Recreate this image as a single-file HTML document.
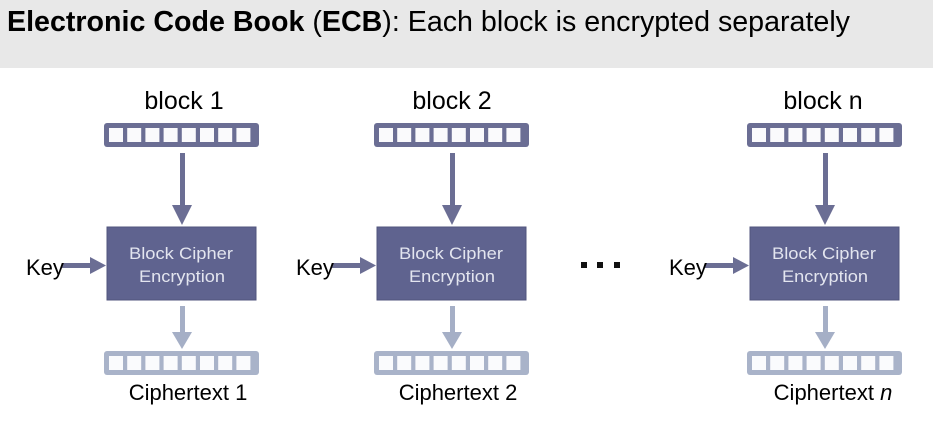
<!DOCTYPE html>
<html><head><meta charset="utf-8"><style>
html,body{margin:0;padding:0;background:#fff;}
svg{display:block;}
</style></head><body>
<svg width="933" height="437" viewBox="0 0 933 437" xmlns="http://www.w3.org/2000/svg">
<defs>
<g id="topbar">
  <rect x="104" y="123" width="155" height="24" rx="3" fill="#6b6e94"/>
  <g fill="#fafafc">
    <rect x="109" y="128" width="14" height="14"/><rect x="127.2" y="128" width="14" height="14"/>
    <rect x="145.4" y="128" width="14" height="14"/><rect x="163.6" y="128" width="14" height="14"/>
    <rect x="181.8" y="128" width="14" height="14"/><rect x="200" y="128" width="14" height="14"/>
    <rect x="218.2" y="128" width="14" height="14"/><rect x="236.4" y="128" width="14" height="14"/>
  </g>
</g>
<g id="botbar">
  <rect x="104" y="351" width="155" height="24" rx="3" fill="#a9b3c9"/>
  <g fill="#fafbfd">
    <rect x="109" y="356" width="14" height="14"/><rect x="127.2" y="356" width="14" height="14"/>
    <rect x="145.4" y="356" width="14" height="14"/><rect x="163.6" y="356" width="14" height="14"/>
    <rect x="181.8" y="356" width="14" height="14"/><rect x="200" y="356" width="14" height="14"/>
    <rect x="218.2" y="356" width="14" height="14"/><rect x="236.4" y="356" width="14" height="14"/>
  </g>
</g>
<g id="col">
  <use href="#topbar"/>
  <rect x="180" y="153" width="5" height="53" fill="#6b6e94"/>
  <polygon points="172,205 192,205 182,225" fill="#6b6e94"/>
  <rect x="107" y="227" width="149" height="73" fill="#5f638f" stroke="#51547c" stroke-width="1"/>
  <text x="129" y="259" font-family="Liberation Sans, sans-serif" font-size="17" fill="#e3e5ef" textLength="104" lengthAdjust="spacingAndGlyphs">Block Cipher</text>
  <text x="139" y="282" font-family="Liberation Sans, sans-serif" font-size="17" fill="#e3e5ef" textLength="86" lengthAdjust="spacingAndGlyphs">Encryption</text>
  <rect x="62" y="263" width="30" height="5" fill="#6b6e94"/>
  <polygon points="90,257 90,274 106,265.5" fill="#6b6e94"/>
  <rect x="180" y="306" width="5" height="27" fill="#a5afc6"/>
  <polygon points="172,332 192,332 182,349" fill="#a5afc6"/>
  <use href="#botbar"/>
</g>
</defs>
<rect x="0" y="0" width="933" height="68" fill="#e8e8e8"/>
<text x="7" y="31" font-family="Liberation Sans, sans-serif" font-size="29" fill="#000" textLength="843" lengthAdjust="spacingAndGlyphs"><tspan font-weight="bold">Electronic Code Book</tspan> (<tspan font-weight="bold">ECB</tspan>): Each block is encrypted separately</text>

<use href="#col"/>
<use href="#col" transform="translate(270,0)"/>
<use href="#col" transform="translate(643,0)"/>

<g font-family="Liberation Sans, sans-serif" fill="#000">
  <text x="184" y="109" font-size="25" text-anchor="middle">block 1</text>
  <text x="452" y="109" font-size="25" text-anchor="middle">block 2</text>
  <text x="823" y="109" font-size="25" text-anchor="middle">block n</text>
  <text x="26" y="275" font-size="22">Key</text>
  <text x="296" y="275" font-size="22">Key</text>
  <text x="669" y="275" font-size="22">Key</text>
  <text x="188" y="400" font-size="22" text-anchor="middle">Ciphertext 1</text>
  <text x="458" y="400" font-size="22" text-anchor="middle">Ciphertext 2</text>
  <text x="833" y="400" font-size="22" text-anchor="middle">Ciphertext <tspan font-style="italic">n</tspan></text>
</g>
<g fill="#111">
  <rect x="581" y="262" width="6" height="6"/>
  <rect x="597" y="262" width="6" height="6"/>
  <rect x="614" y="262" width="6" height="6"/>
</g>
</svg>
</body></html>
